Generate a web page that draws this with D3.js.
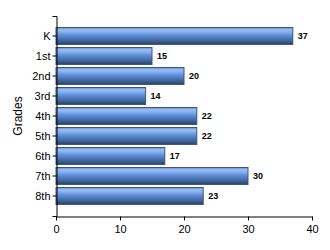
<!DOCTYPE html>
<html>
<head>
<meta charset="utf-8">
<script src="https://cdn.jsdelivr.net/npm/d3@7"></script>
<style>
  body { margin: 0; background: #fff; }
  .tick text { font-family: "Liberation Sans", Arial, sans-serif; font-size: 11px; fill: #000; }
  .value { font-family: "Liberation Sans", Arial, sans-serif; font-size: 9px; font-weight: bold; fill: #000; }
</style>
</head>
<body>
<div id="chart"></div>
<script>
// Data
var grades = ["K", "1st", "2nd", "3rd", "4th", "5th", "6th", "7th", "8th"];
var counts = [37, 15, 20, 14, 22, 22, 17, 30, 23];
var xTicks = [0, 10, 20, 30, 40];

var svgWidth = 330;
var svgHeight = 250;

var svg = d3.select("#chart")
  .append("svg")
  .attr("width", svgWidth)
  .attr("height", svgHeight);

// Bar gradient
var grad = svg.append("defs").append("linearGradient")
  .attr("id", "barGrad")
  .attr("x1", 0).attr("y1", 0).attr("x2", 0).attr("y2", 1);
[["0%", "#6a90cc"], ["15%", "#9cc0f6"], ["45%", "#5f90dd"], ["75%", "#42689f"], ["100%", "#2a4268"]]
  .forEach(function (s) {
    grad.append("stop").attr("offset", s[0]).attr("stop-color", s[1]);
  });

// Scales
var xScale = d3.scaleLinear()
  .domain([0, 40])
  .range([56, 312]);

var yScale = d3.scaleBand()
  .domain(grades)
  .range([16, 216])
  .paddingInner(0.15)
  .paddingOuter(0.575);

// Bars
svg.selectAll("rect.bar")
  .data(grades)
  .enter()
  .append("rect")
  .attr("class", "bar")
  .attr("x", xScale(0))
  .attr("y", d => yScale(d))
  .attr("width", (d, i) => xScale(counts[i]) - xScale(0))
  .attr("height", yScale.bandwidth())
  .attr("fill", "url(#barGrad)")
  .attr("stroke", "#3d5682")
  .attr("stroke-width", 1);

// Value labels
svg.selectAll("text.value")
  .data(grades)
  .enter()
  .append("text")
  .attr("class", "value")
  .attr("x", (d, i) => xScale(counts[i]) + 5)
  .attr("y", d => yScale(d) + yScale.bandwidth() / 2)
  .attr("dy", "0.35em")
  .text((d, i) => counts[i]);

// Axes
var leftAxis = d3.axisLeft(yScale).tickSize(4).tickSizeOuter(4);
var bottomAxis = d3.axisBottom(xScale).tickValues(xTicks).tickSize(4).tickSizeOuter(0);

var gy = svg.append("g")
  .attr("transform", "translate(56.5,0)")
  .call(leftAxis);
gy.selectAll("path, line").attr("stroke", "#000");
gy.selectAll(".tick text").attr("x", -6);

var gx = svg.append("g")
  .attr("transform", "translate(0,216.5)")
  .call(bottomAxis);
gx.selectAll("path, line").attr("stroke", "#000");
gx.selectAll(".tick text").attr("y", 9);

// Axis title
svg.append("text")
  .attr("transform", "translate(22,116) rotate(-90)")
  .attr("text-anchor", "middle")
  .attr("font-family", "Liberation Sans, Arial, sans-serif")
  .attr("font-size", "12px")
  .attr("fill", "#000")
  .text("Grades");
</script>
</body>
</html>
